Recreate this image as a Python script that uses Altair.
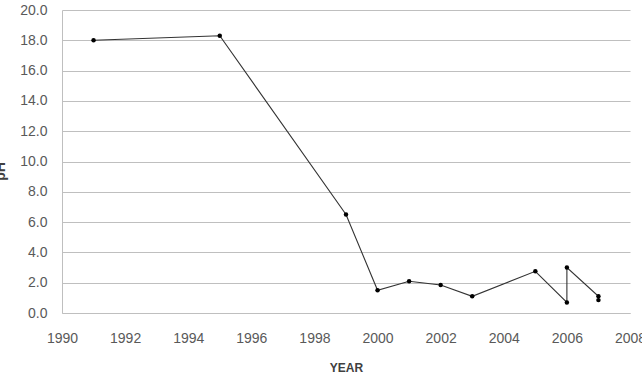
import altair as alt
import pandas as pd

years = [1991, 1995, 1999, 2000, 2001, 2002, 2003, 2005, 2006, 2006, 2007, 2007]
values = [18.0, 18.3, 6.5, 1.5, 2.1, 1.85, 1.1, 2.75, 0.7, 3.0, 1.1, 0.85]
order = list(range(len(years)))

df = pd.DataFrame({"year": years, "ph": values, "order": order})

font = "Liberation Sans"
txt = "#595959"

x = alt.X("year:Q", title="YEAR",
          scale=alt.Scale(domain=[1990, 2008], nice=False, zero=False),
          axis=alt.Axis(values=list(range(1990, 2009, 2)), format="d", grid=False,
                        ticks=False, domain=True, domainColor="#bfbfbf", labelFlush=False,
                        labelFont=font, labelFontSize=14, labelColor=txt, labelPadding=18,
                        titleFont=font, titleFontSize=12, titleFontWeight="bold",
                        titleColor="#404040", titlePadding=17))
y = alt.Y("ph:Q", title="pH",
          scale=alt.Scale(domain=[0, 20], nice=False),
          axis=alt.Axis(values=list(range(0, 21, 2)), format=".1f", grid=True,
                        gridColor="#bfbfbf", ticks=False, domain=True, domainColor="#bfbfbf",
                        labelFlush=False,
                        labelFont=font, labelFontSize=14, labelColor=txt, labelPadding=15,
                        titleFont=font, titleFontSize=14, titleFontWeight="bold",
                        titleColor="#404040", titleX=-55, titleY=161))

base = alt.Chart(df)
line = base.mark_line(color="#333333", strokeWidth=1.1).encode(x=x, y=y, order="order:Q")
pts = base.mark_point(filled=True, color="#000000", size=20, opacity=1).encode(x=x, y=y)

chart = (line + pts).properties(
    width=568, height=303,
    autosize=alt.AutoSizeParams(type="none"),
    padding={"left": 62, "top": 10, "right": 12, "bottom": 66},
    background="white",
).configure_view(stroke=None)

chart.save("out.html", embed_options={"renderer": "svg", "actions": False})
